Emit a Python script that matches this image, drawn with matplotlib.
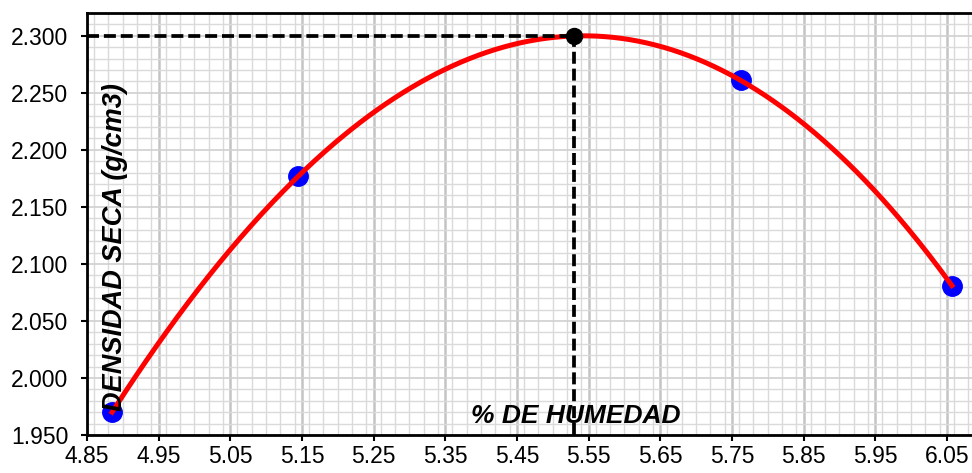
import numpy as np
import matplotlib
matplotlib.use("Agg")
import matplotlib.pyplot as plt
from matplotlib.ticker import MultipleLocator, FixedLocator

# Data
humedad = [4.885, 5.145, 5.762, 6.057]          # % moisture
densidad = [1.970, 2.177, 2.261, 2.081]         # dry density g/cm3
opt_humedad = 5.530
max_densidad = 2.300

x_ticks = [4.85, 4.95, 5.05, 5.15, 5.25, 5.35, 5.45, 5.55, 5.65, 5.75, 5.85, 5.95, 6.05]
y_ticks = [1.950, 2.000, 2.050, 2.100, 2.150, 2.200, 2.250, 2.300]

plt.rcParams['font.family'] = ['Liberation Sans', 'DejaVu Sans']

fig = plt.figure(figsize=(9.72, 4.73), dpi=100)
ax = fig.add_axes([87/972, 1-435/473, 1-87/972, (435-13)/473])

ax.set_xlim(4.85, 6.085)
ax.set_ylim(1.95, 2.32)

# grid
ax.xaxis.set_major_locator(FixedLocator(x_ticks))
ax.yaxis.set_major_locator(FixedLocator(y_ticks))
ax.xaxis.set_minor_locator(MultipleLocator(0.02))
ax.yaxis.set_minor_locator(MultipleLocator(0.01))
ax.grid(which='minor', color='#dadada', linewidth=1.0)
ax.grid(which='major', axis='x', color='#c4c4c4', linewidth=1.8)
ax.grid(which='major', axis='y', color='#d0d0d0', linewidth=1.2)
ax.set_axisbelow(True)
ax.tick_params(which='minor', length=0)
ax.tick_params(which='major', direction='out', length=4.5, width=1.5, labelsize=16.5, colors='black')
ax.tick_params(axis='y', pad=9)
ax.tick_params(axis='x', pad=3)
ax.set_yticklabels([f"{v:.3f}" for v in y_ticks])
ax.set_xticklabels([f"{v:.2f}" for v in x_ticks])

for s in ['left', 'bottom', 'top']:
    ax.spines[s].set_linewidth(2.0)
    ax.spines[s].set_color('black')
ax.spines['right'].set_visible(False)

# fitted curve
coef = np.polyfit(humedad, densidad, 3)
xs = np.linspace(min(humedad), max(humedad), 400)
ys = np.polyval(coef, xs)

ax.plot(humedad, densidad, 'o', color='#0000ff', markersize=14, zorder=3)
ax.plot(xs, ys, '-', color='#ff0000', linewidth=3.6, zorder=4)

# optimum lines
ax.plot([4.85, opt_humedad], [max_densidad, max_densidad], color='black', linewidth=2.7,
        dashes=(3.2, 1.3), zorder=5, clip_on=False)
ax.plot([opt_humedad, opt_humedad], [1.95, max_densidad], color='black', linewidth=2.7,
        dashes=(3.2, 1.3), zorder=5, clip_on=False)
ax.plot([opt_humedad], [max_densidad], 'o', color='black', markersize=11.5, zorder=6)

fig.text(122/972, 1-247/473, 'DENSIDAD SECA (g/cm3)', rotation=90, rotation_mode='anchor',
         ha='center', va='baseline', fontsize=19.5, fontweight='bold', fontstyle='italic')
fig.text(576/972, 1-423/473, '% DE HUMEDAD', ha='center', va='baseline',
         fontsize=19, fontweight='bold', fontstyle='italic')

fig.savefig('out.png', dpi=100)
